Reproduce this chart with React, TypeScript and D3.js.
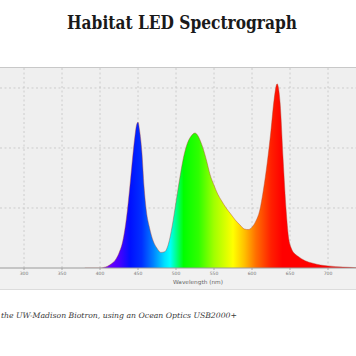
import React from "react";
import * as d3 from "d3";

const W = 356;
const H = 356;

const wavelengths = [
  380, 400, 405, 410, 415, 420, 425, 430, 435, 440, 443, 446, 448, 450, 452, 455, 458, 461, 465, 470,
  475, 480, 485, 490, 495, 500, 505, 510, 515, 520, 525, 528, 532, 536, 540, 545, 550, 555, 560, 566,
  572, 578, 584, 590, 595, 600, 605, 610, 615, 620, 625, 629, 633, 637, 641, 645, 648, 652, 656, 660,
  670, 680, 690, 700, 720, 740, 760,
];
const intensity = [
  0, 0, 0.01, 0.03, 0.07, 0.13, 0.25, 0.45, 0.85, 1.45, 1.85, 2.2, 2.38, 2.43, 2.3, 1.95, 1.35, 0.95, 0.68, 0.45,
  0.33, 0.26, 0.27, 0.4, 0.7, 1.1, 1.5, 1.85, 2.08, 2.2, 2.25, 2.22, 2.12, 1.98, 1.8, 1.55, 1.38, 1.23, 1.12, 1.0,
  0.9, 0.8, 0.72, 0.65, 0.64, 0.68, 0.78, 0.95, 1.3, 1.75, 2.3, 2.8, 3.07, 2.75, 1.8, 0.95, 0.52, 0.32, 0.24, 0.2,
  0.12, 0.08, 0.05, 0.035, 0.015, 0.005, 0,
];

const xTicks = [300, 350, 400, 450, 500, 550, 600, 650, 700];
const yGrid = [1, 2, 3];

const colorStopsNm = [380, 410, 425, 440, 455, 470, 485, 492, 500, 510, 530, 550, 575, 590, 605, 625, 640, 760];
const colorStopsHex = [
  "#7a00c0", "#7000ff", "#4a00ff", "#0010ff", "#0030ff", "#0080ff", "#00e0ff", "#00ffff", "#00ff90",
  "#00ff00", "#30ff00", "#a0ff00", "#ffff00", "#ffc000", "#ff7000", "#ff2000", "#ff0000", "#ff0000",
];

const title = "Habitat LED Spectrograph";
const caption = "the UW-Madison Biotron, using an Ocean Optics USB2000+";
const xLabel = "Wavelength (nm)";

export default function App() {
  const x = d3.scaleLinear().domain([300, 700]).range([24, 328]);
  const y = d3.scaleLinear().domain([0, 3.3333]).range([268, 68]);
  const plotLeft = 0;
  const plotRight = W;
  const plotTop = 68;
  const plotBottom = 268;

  const data = wavelengths.map((w, i) => ({ w, v: intensity[i] }));
  const area = d3
    .area<{ w: number; v: number }>()
    .x((d) => x(d.w))
    .y0(y(0))
    .y1((d) => y(d.v))
    .curve(d3.curveMonotoneX);
  const line = d3
    .line<{ w: number; v: number }>()
    .x((d) => x(d.w))
    .y((d) => y(d.v))
    .curve(d3.curveMonotoneX);

  const x0 = x(colorStopsNm[0]);
  const x1 = x(colorStopsNm[colorStopsNm.length - 1]);

  return (
    <svg
      width={W}
      height={H}
      style={{ position: "absolute", left: 0, top: 0, background: "#fff" }}
    >
      <defs>
        <linearGradient id="spec" gradientUnits="userSpaceOnUse" x1={x0} x2={x1} y1={0} y2={0}>
          {colorStopsNm.map((nm, i) => (
            <stop key={i} offset={(x(nm) - x0) / (x1 - x0)} stopColor={colorStopsHex[i]} />
          ))}
        </linearGradient>
        <clipPath id="plotclip">
          <rect x={plotLeft} y={plotTop} width={plotRight - plotLeft} height={plotBottom - plotTop} />
        </clipPath>
      </defs>

      <text
        x={182}
        y={29}
        textAnchor="middle"
        fontFamily="'DejaVu Serif', serif"
        fontWeight="bold"
        fontSize={18}
        textLength={230}
        lengthAdjust="spacingAndGlyphs"
        fill="#1a1a1a"
      >
        {title}
      </text>

      <rect x={0} y={67.5} width={W} height={222} fill="#f1f1f1" />
      <line x1={0} x2={W} y1={67.5} y2={67.5} stroke="#c8c8c8" strokeWidth={1} />
      <line x1={0} x2={W} y1={289.5} y2={289.5} stroke="#dcdcdc" strokeWidth={1} />
      <rect x={plotLeft} y={plotTop} width={plotRight - plotLeft} height={plotBottom - plotTop} fill="#efefef" />

      <g stroke="#c4c4c4" strokeWidth={0.8} strokeDasharray="2,2.5">
        {xTicks.map((t) => (
          <line key={t} x1={x(t)} x2={x(t)} y1={plotTop} y2={plotBottom} />
        ))}
        {yGrid.map((t) => (
          <line key={t} x1={plotLeft} x2={plotRight} y1={y(t)} y2={y(t)} />
        ))}
      </g>

      <g clipPath="url(#plotclip)">
        <path d={area(data) || ""} fill="url(#spec)" />
        <path d={line(data) || ""} fill="none" stroke="#b04030" strokeWidth={0.6} strokeOpacity={0.7} />
      </g>

      <line x1={plotLeft} x2={plotRight} y1={plotBottom} y2={plotBottom} stroke="#9a9a9a" strokeWidth={1} />
      <g>
        {xTicks.map((t) => (
          <g key={t}>
            <line x1={x(t)} x2={x(t)} y1={plotBottom} y2={plotBottom + 2} stroke="#9a9a9a" strokeWidth={0.8} />
            <text
              x={x(t)}
              y={plotBottom + 6.5}
              textAnchor="middle"
              fontFamily="'DejaVu Sans', sans-serif"
              fontSize={4.5}
              fill="#777"
            >
              {t}
            </text>
          </g>
        ))}
      </g>
      <text
        x={198}
        y={284}
        textAnchor="middle"
        fontFamily="'DejaVu Sans', sans-serif"
        fontSize={5.5}
        fill="#666"
        textLength={50}
        lengthAdjust="spacingAndGlyphs"
      >
        {xLabel}
      </text>

      <text
        x={1}
        y={317.5}
        fontFamily="'DejaVu Serif', serif"
        fontStyle="italic"
        fontSize={7.5}
        fill="#3a3a3a"
        textLength={236}
        lengthAdjust="spacingAndGlyphs"
      >
        {caption}
      </text>
    </svg>
  );
}
